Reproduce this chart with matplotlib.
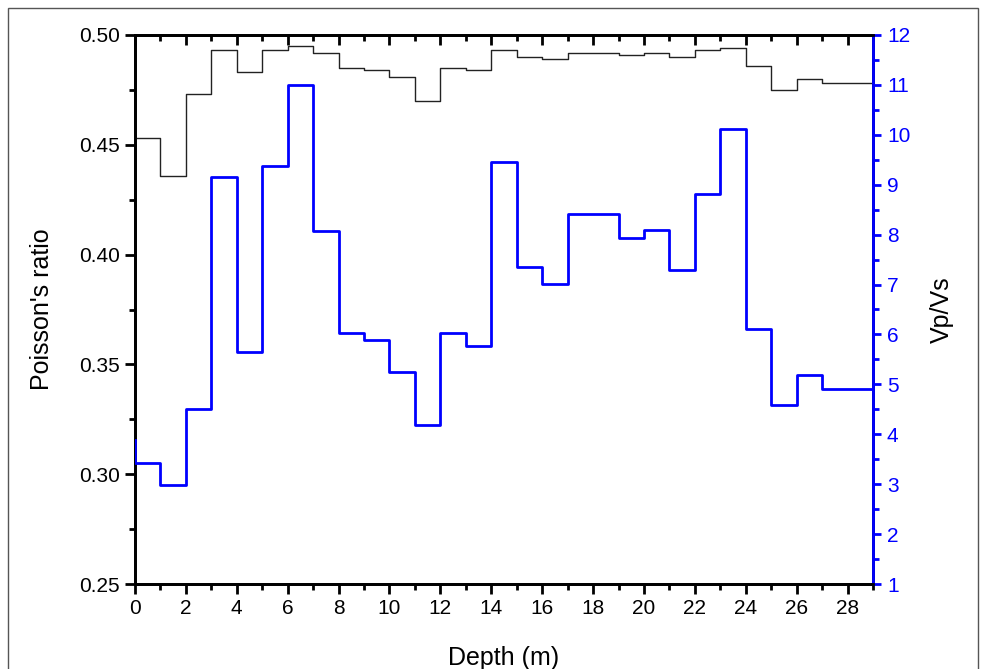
import matplotlib
matplotlib.use("Agg")
import matplotlib.pyplot as plt
from matplotlib.ticker import MultipleLocator, FormatStrFormatter
from matplotlib.patches import Rectangle

plt.rcParams['font.family'] = ['Liberation Sans', 'DejaVu Sans']

# step edges (m); value i covers the layer from depth[i-1] to depth[i]
depth = list(range(0, 30))
poisson = [0.464, 0.453, 0.436, 0.473, 0.493, 0.483, 0.493, 0.495, 0.492, 0.485,
           0.484, 0.481, 0.470, 0.485, 0.484, 0.493, 0.490, 0.489, 0.492, 0.492,
           0.491, 0.492, 0.490, 0.493, 0.494, 0.486, 0.475, 0.480, 0.478, 0.478]
vpvs = [3.89, 3.43, 2.98, 4.50, 9.15, 5.65, 9.38, 11.0, 8.08, 6.02,
        5.88, 5.25, 4.19, 6.03, 5.77, 9.46, 7.35, 7.02, 8.41, 8.41,
        7.93, 8.10, 7.30, 8.81, 10.11, 6.10, 4.59, 5.18, 4.91, 4.91]

fig = plt.figure(figsize=(9.81, 6.69), dpi=100)
ax = fig.add_axes([135 / 981, 1 - 584 / 669, 738 / 981, 549 / 669])
ax2 = ax.twinx()

ax.step(depth, poisson, where='pre', color='#222222', lw=1.0, zorder=3)
ax2.step(depth, vpvs, where='pre', color='#0000ff', lw=2.0, zorder=3)

ax.set_xlim(0, 29)
ax.set_ylim(0.25, 0.50)
ax2.set_ylim(1, 12)

ax.xaxis.set_major_locator(MultipleLocator(2))
ax.xaxis.set_minor_locator(MultipleLocator(1))
ax.yaxis.set_major_locator(MultipleLocator(0.05))
ax.yaxis.set_minor_locator(MultipleLocator(0.025))
ax.yaxis.set_major_formatter(FormatStrFormatter('%.2f'))
ax2.yaxis.set_major_locator(MultipleLocator(1))
ax2.yaxis.set_minor_locator(MultipleLocator(0.5))

for s in ax.spines.values():
    s.set_linewidth(2)
for s in ax2.spines.values():
    s.set_linewidth(2)
ax2.spines['right'].set_color('#0000ff')
ax.spines['top'].set_visible(False)

ax.tick_params(axis='both', which='major', direction='out', length=7, width=2,
               labelsize=15, pad=4)
ax.tick_params(axis='both', which='minor', direction='out', length=4, width=2)
ax.tick_params(axis='y', right=False)
ax.tick_params(axis='x', top=False)

ax2.tick_params(axis='y', which='major', direction='out', length=6, width=2,
                colors='#0000ff', labelsize=15, pad=4)
ax2.tick_params(axis='y', which='minor', direction='out', length=4, width=2,
                colors='#0000ff')

top = ax.secondary_xaxis('top')
top.xaxis.set_major_locator(MultipleLocator(2))
top.xaxis.set_minor_locator(MultipleLocator(1))
top.tick_params(which='major', direction='in', length=7, width=2, labeltop=False)
top.tick_params(which='minor', direction='in', length=4, width=2)
top.spines['top'].set_linewidth(2)

ax.set_xlabel('Depth (m)', fontsize=18, labelpad=20)
ax.set_ylabel("Poisson's ratio", fontsize=18, labelpad=18)
ax2.set_ylabel('Vp/Vs', fontsize=18, labelpad=14)

fig.patches.append(Rectangle((8 / 981, -0.1), 970 / 981, 1.1 - 8 / 669,
                             transform=fig.transFigure, fill=False,
                             edgecolor='#555555', lw=1))

fig.savefig('out.png', dpi=100)
